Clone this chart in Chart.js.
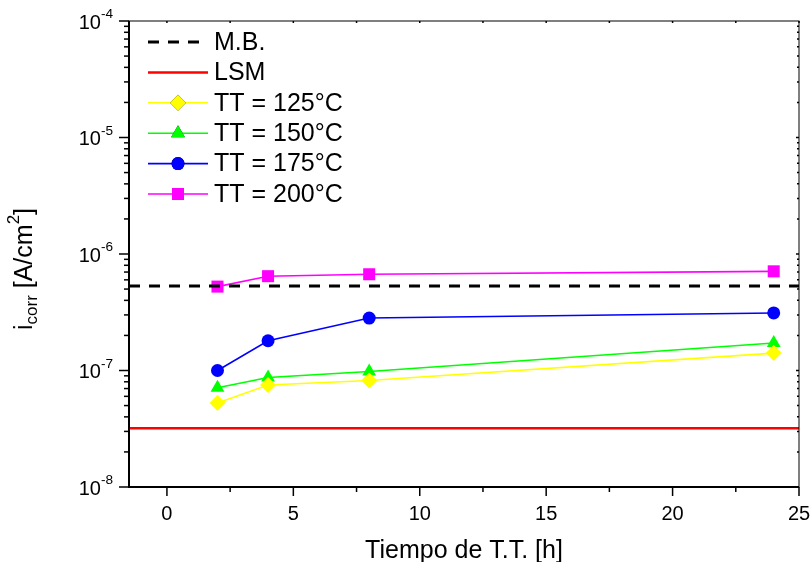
<!DOCTYPE html>
<html>
<head>
<meta charset="utf-8">
<script src="https://cdn.jsdelivr.net/npm/chart.js@4"></script>
<style>
  html, body { margin: 0; padding: 0; background: #fff; }
  #wrap { width: 812px; height: 562px; }
</style>
</head>
<body>
<div id="wrap"><canvas id="c" width="812" height="562"></canvas></div>
<script>
// data
const times = [2, 4, 8, 24];
const tt125 = [5.25e-8, 7.5e-8, 8.2e-8, 1.41e-7];
const tt150 = [7.1e-8, 8.7e-8, 9.8e-8, 1.72e-7];
const tt175 = [1.0e-7, 1.8e-7, 2.82e-7, 3.12e-7];
const tt200 = [5.25e-7, 6.45e-7, 6.7e-7, 7.1e-7];
const mbValue = 5.3e-7;
const lsmValue = 3.2e-8;
const xRange = [-1.5, 25];
const yRange = [1e-8, 1e-4];
const xTicks = [0, 5, 10, 15, 20, 25];
const yTickExp = [-8, -7, -6, -5, -4];

const FONT = '"Liberation Sans", Arial, sans-serif';

const pts = (ys) => times.map((t, i) => ({ x: t, y: ys[i] }));
const hline = (v) => xRange.map(x => ({ x: x, y: v }));

function series(label, ys, color, style, r) {
  return {
    label: label, data: pts(ys), showLine: true,
    borderColor: color, backgroundColor: color, borderWidth: 1.6,
    pointStyle: style, pointRadius: r, pointHoverRadius: r,
    pointBorderWidth: 0, pointBackgroundColor: color
  };
}

const datasets = [
  { label: 'M.B.', data: hline(mbValue), showLine: true, borderColor: '#000', borderWidth: 3,
    borderDash: [11, 9], pointRadius: 0 },
  { label: 'LSM', data: hline(lsmValue), showLine: true, borderColor: '#ff0000', borderWidth: 2.5,
    pointRadius: 0 },
  series('TT = 125°C', tt125, '#ffff00', 'rectRot', 8),
  series('TT = 150°C', tt150, '#00ff00', 'triangle', 8),
  series('TT = 175°C', tt175, '#0000ff', 'circle', 6.5),
  series('TT = 200°C', tt200, '#ff00ff', 'rect', 8.5)
];

// superscript / subscript text helper, returns width
function richText(ctx, parts, x, y, size, measureOnly) {
  let cx = x;
  parts.forEach(p => {
    const s = p.mode ? size * 0.68 : size;
    ctx.font = s + 'px ' + FONT;
    const w = ctx.measureText(p.t).width;
    if (!measureOnly) {
      let dy = 0;
      if (p.mode === 'sup') dy = -size * 0.42;
      if (p.mode === 'sub') dy = size * 0.28;
      ctx.fillText(p.t, cx, y + dy);
    }
    cx += w;
  });
  return cx - x;
}

const axesPlugin = {
  id: 'axesPlugin',
  afterDraw(chart) {
    const { ctx, chartArea: a, scales: { x, y } } = chart;
    ctx.save();
    ctx.fillStyle = '#000';
    ctx.strokeStyle = '#000';

    // frame
    ctx.lineWidth = 1;
    ctx.strokeRect(a.left, a.top, a.right - a.left, a.bottom - a.top);
    ctx.lineWidth = 2;
    ctx.beginPath();
    ctx.moveTo(a.left, a.top); ctx.lineTo(a.left, a.bottom); ctx.lineTo(a.right, a.bottom);
    ctx.stroke();

    // x ticks
    ctx.lineWidth = 1.5;
    for (let v = 0; v <= 25; v += 2.5) {
      const px = x.getPixelForValue(v);
      const major = v % 5 === 0;
      ctx.beginPath();
      ctx.moveTo(px, a.bottom);
      ctx.lineTo(px, a.bottom + (major ? 9 : 5));
      ctx.stroke();
      ctx.beginPath();
      ctx.moveTo(px, a.top);
      ctx.lineTo(px, a.top + 2);
      ctx.stroke();
    }
    ctx.font = '20px ' + FONT;
    ctx.textAlign = 'center';
    ctx.textBaseline = 'middle';
    xTicks.forEach(v => ctx.fillText(String(v), x.getPixelForValue(v), a.bottom + 27));

    // y ticks
    for (let e = -8; e < -4; e++) {
      for (let m = 1; m <= 9; m++) {
        const py = y.getPixelForValue(m * Math.pow(10, e));
        ctx.beginPath();
        ctx.moveTo(a.left, py);
        ctx.lineTo(a.left - (m === 1 ? 10 : 5), py);
        ctx.stroke();
        ctx.beginPath();
        ctx.moveTo(a.right, py);
        ctx.lineTo(a.right - (m === 1 ? 3 : 2), py);
        ctx.stroke();
      }
    }
    const topY = y.getPixelForValue(1e-4);
    ctx.beginPath(); ctx.moveTo(a.left, topY); ctx.lineTo(a.left - 10, topY); ctx.stroke();

    ctx.textAlign = 'left';
    yTickExp.forEach(e => {
      const py = y.getPixelForValue(Math.pow(10, e));
      const parts = [{ t: '10' }, { t: '-' + Math.abs(e), mode: 'sup' }];
      const w = richText(ctx, parts, 0, 0, 20, true);
      richText(ctx, parts, a.left - 16 - w, py + 2, 20, false);
    });

    // axis titles
    ctx.font = '25px ' + FONT;
    ctx.textAlign = 'center';
    ctx.fillText('Tiempo de T.T. [h]', (a.left + a.right) / 2, a.bottom + 64);

    const yt = [{ t: 'i' }, { t: 'corr', mode: 'sub' }, { t: ' [A/cm' }, { t: '2', mode: 'sup' }, { t: ']' }];
    ctx.translate(25, 269);
    ctx.rotate(-Math.PI / 2);
    ctx.textAlign = 'left';
    const tw = richText(ctx, yt, 0, 0, 25, true);
    richText(ctx, yt, -tw / 2, 0, 25, false);
    ctx.restore();

    // legend
    ctx.save();
    const lx0 = a.left + 19, lx1 = a.left + 79, tx = a.left + 85;
    chart.data.datasets.forEach((ds, i) => {
      const ly = a.top + 21 + i * 30.4;
      ctx.strokeStyle = ds.borderColor;
      ctx.lineWidth = ds.borderWidth;
      ctx.setLineDash(ds.borderDash || []);
      ctx.beginPath();
      ctx.moveTo(lx0, ly); ctx.lineTo(lx1, ly);
      ctx.stroke();
      ctx.setLineDash([]);
      if (ds.pointStyle) {
        Chart.helpers.drawPoint(ctx, {
          pointStyle: ds.pointStyle, radius: ds.pointRadius, borderWidth: 0, rotation: 0
        }, (lx0 + lx1) / 2, ly);
        ctx.fillStyle = ds.backgroundColor;
        ctx.fill();
      }
      ctx.fillStyle = '#000';
      ctx.font = '25px ' + FONT;
      ctx.textAlign = 'left';
      ctx.textBaseline = 'middle';
      ctx.fillText(ds.label, tx, ly + 1);
    });
    ctx.restore();
  }
};

new Chart(document.getElementById('c'), {
  type: 'scatter',
  data: { datasets: datasets },
  options: {
    responsive: false,
    animation: false,
    layout: { padding: { left: 129, top: 21, right: 13, bottom: 75 } },
    plugins: { legend: { display: false }, tooltip: { enabled: false } },
    elements: { line: { tension: 0 } },
    scales: {
      x: { type: 'linear', min: xRange[0], max: xRange[1], display: false },
      y: { type: 'logarithmic', min: yRange[0], max: yRange[1], display: false }
    }
  },
  plugins: [axesPlugin]
});
</script>
</body>
</html>
